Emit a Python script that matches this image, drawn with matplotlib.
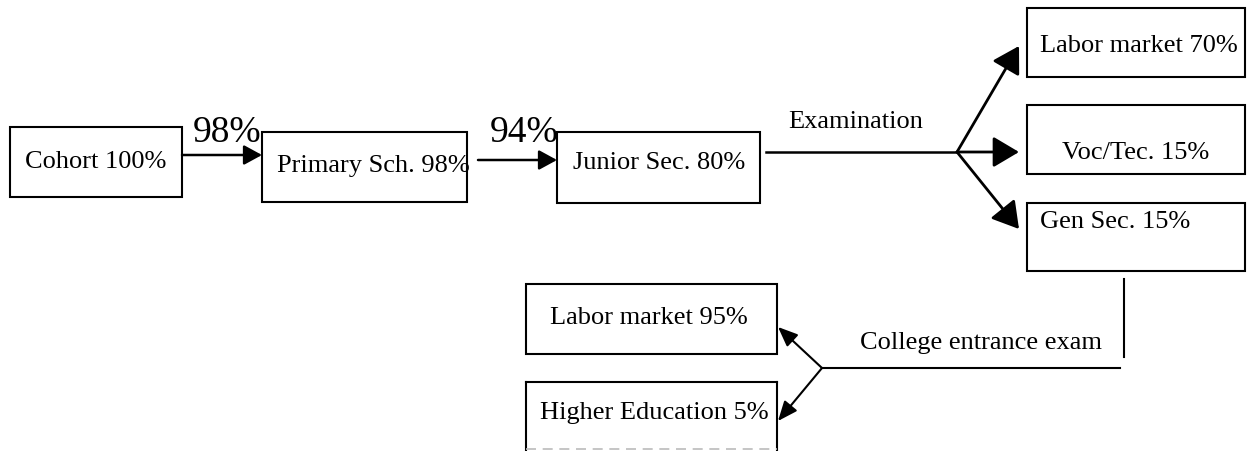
import matplotlib.pyplot as plt
from matplotlib.patches import Rectangle, FancyArrowPatch

plt.rcParams['font.family'] = ['Liberation Serif', 'DejaVu Serif']

# data
stage_names = ['Cohort', 'Primary Sch.', 'Junior Sec.']
stage_pct = [100, 98, 80]
transition_pct = [98, 94]
branch_names = ['Labor market', 'Voc/Tec.', 'Gen Sec.']
branch_pct = [70, 15, 15]
college_names = ['Labor market', 'Higher Education']
college_pct = [95, 5]
exam_label = 'Examination'
college_label = 'College entrance exam'

# layout (pixel coords, y down)
stage_boxes = [(10, 127, 172, 70), (262, 132, 205, 70), (557, 132, 203, 71)]
stage_text = [(25, 162), (277, 166), (573, 163)]
trans_arrows = [((182, 155), (262, 155)), ((478, 160), (557, 160))]
trans_text = [(193, 142), (490, 142)]

branch_boxes = [(1027, 8, 218, 69), (1027, 105, 218, 69), (1027, 203, 218, 68)]
branch_text = [(1040, 46), (1062, 153), (1040, 222)]
split = (957, 152)
branch_tips = [(1019, 46), (1019, 152), (1019, 229)]

college_boxes = [(526, 284, 251, 70), (526, 382, 251, 80)]
college_text = [(550, 318), (540, 413)]
split2 = (822, 368)
college_tips = [(778, 327), (778, 421)]

fig = plt.figure(figsize=(12.47, 4.51), dpi=100)
ax = fig.add_axes([0, 0, 1, 1])
ax.set_xlim(0, 1247)
ax.set_ylim(451, 0)
ax.axis('off')

fs = 19
lw = 1.5


def box(x, y, w, h):
    ax.add_patch(Rectangle((x, y), w, h, fill=False, ec='black', lw=lw))


def arrow(p0, p1, hl, hw, lwa=1.8):
    ax.add_patch(FancyArrowPatch(p0, p1, arrowstyle=f'-|>,head_length={hl},head_width={hw}',
                                 mutation_scale=1, shrinkA=0, shrinkB=0,
                                 color='black', lw=lwa))


# first row
for i in range(len(stage_names)):
    box(*stage_boxes[i])
    ax.text(stage_text[i][0], stage_text[i][1], f'{stage_names[i]} {stage_pct[i]}%',
            fontsize=fs, ha='left', va='center')

for i in range(len(transition_pct)):
    arrow(trans_arrows[i][0], trans_arrows[i][1], 11, 6)
    ax.text(trans_text[i][0], trans_text[i][1], f'{transition_pct[i]}%',
            fontsize=27, ha='left', va='baseline')

# examination split
ax.plot([766, split[0]], [split[1], split[1]], color='black', lw=1.8)
ax.text(788, 122, exam_label, fontsize=fs, ha='left', va='center')
for i in range(len(branch_names)):
    box(*branch_boxes[i])
    ax.text(branch_text[i][0], branch_text[i][1], f'{branch_names[i]} {branch_pct[i]}%',
            fontsize=fs, ha='left', va='center')
    arrow(split, branch_tips[i], 16, 9.5, 2)

# college entrance exam
ax.plot([1124, 1124], [279, 357], color='black', lw=1.5)
ax.plot([split2[0], 1120], [split2[1], split2[1]], color='black', lw=1.5)
ax.text(860, 343, college_label, fontsize=fs, ha='left', va='center')
for i in range(len(college_names)):
    x, y, w, h = college_boxes[i]
    if i == 0:
        box(x, y, w, h)
    else:
        # bottom of this box is cut off, only a faint line remains
        ax.plot([x, x + w], [y, y], color='black', lw=lw)
        ax.plot([x, x], [y, 451], color='black', lw=lw)
        ax.plot([x + w, x + w], [y, 451], color='black', lw=lw)
        ax.plot([x, x + w], [449, 449], color='#bbbbbb', lw=1.2, ls=(0, (6, 4)))
    ax.text(college_text[i][0], college_text[i][1], f'{college_names[i]} {college_pct[i]}%',
            fontsize=fs, ha='left', va='center')
    arrow(split2, college_tips[i], 12, 5, 1.5)

fig.savefig('out.png', dpi=100)
